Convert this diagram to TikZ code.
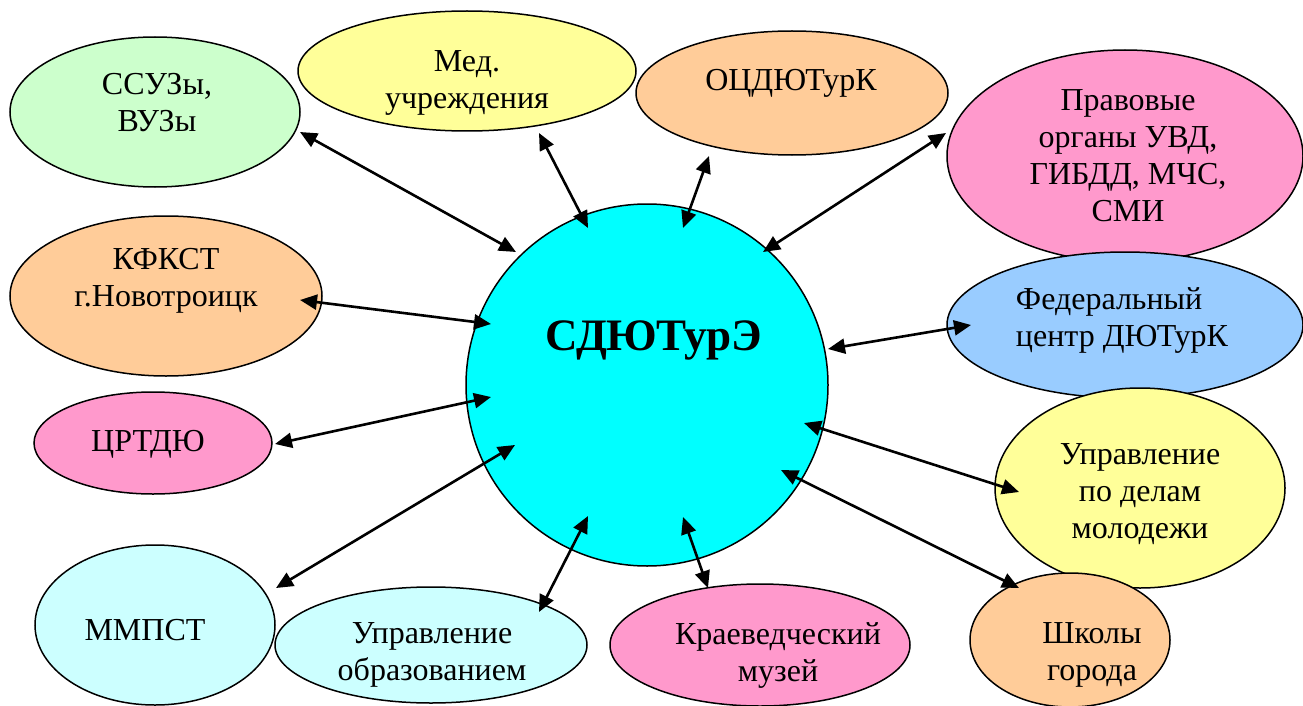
\documentclass[tikz,border=0pt]{standalone}
\usepackage{fontspec}
\setmainfont{Liberation Serif}
\newfontfamily\tms{Liberation Serif}
\usetikzlibrary{shapes.geometric,arrows.meta}
\definecolor{cgreen}{HTML}{CCFFCC}
\definecolor{cyellow}{HTML}{FFFF99}
\definecolor{cpeach}{HTML}{FFCC99}
\definecolor{cpink}{HTML}{FF99CC}
\definecolor{cblue}{HTML}{99CCFF}
\definecolor{clcyan}{HTML}{CCFFFF}
\definecolor{ccyan}{HTML}{00FFFF}
\begin{document}
\begin{tikzpicture}[x=1pt,y=-1pt,
 bub/.style={ellipse,draw=black,line width=1.5pt,inner sep=0pt},
 txt/.style={align=center,font=\tms\fontsize{32}{37}\selectfont,inner sep=0pt},
 lnk/.style={line width=2.6pt,{Triangle[length=17pt,width=15pt]}-{Triangle[length=17pt,width=15pt]}}
]
\useasboundingbox (0,0) rectangle (1303,706);
% bubbles
\node[bub,fill=cgreen,minimum width=290,minimum height=150] (e1) at (155,112) {};
\node[bub,fill=cyellow,minimum width=338,minimum height=120] (e2) at (467,71) {};
\node[bub,fill=cpeach,minimum width=312,minimum height=124] (e3) at (792,93) {};
\node[bub,fill=cpink,minimum width=356,minimum height=212] (e4) at (1125,156) {};
\node[bub,fill=cpeach,minimum width=312,minimum height=160] (e5) at (166,296) {};
\node[bub,fill=cblue,minimum width=356,minimum height=146] (e6) at (1125,325) {};
\node[bub,fill=cpink,minimum width=238,minimum height=102] (e7) at (153,443) {};
\node[bub,fill=cyellow,minimum width=290,minimum height=200] (e8) at (1140,488) {};
\node[bub,fill=clcyan,minimum width=240,minimum height=160] (e9) at (155,625) {};
\node[bub,fill=clcyan,minimum width=312,minimum height=116] (e10) at (431,645) {};
\node[bub,fill=cpink,minimum width=300,minimum height=122] (e11) at (760,645) {};
\node[bub,fill=cpeach,minimum width=200,minimum height=134] (e12) at (1070,640) {};
\node[circle,draw=black,line width=1.5pt,fill=ccyan,minimum size=362,inner sep=0pt] (c) at (647,385) {};
% texts
\node[txt] (t1) at (157,103) {ССУЗы,\\ВУЗы};
\node[txt] (t2) at (467,83) {Мед.\\учреждения};
\node[txt] (t3) at (791,83) {ОЦДЮТурК};
\node[txt] (t4) at (1128,156) {Правовые\\органы УВД,\\ГИБДД, МЧС,\\СМИ};
\node[txt] (t5) at (166,281) {КФКСТ\\г.Новотроицк};
\node[txt,align=left] (t6) at (1122,320) {Федеральный\\центр ДЮТурК};
\node[txt] (t7) at (148,444) {ЦРТДЮ};
\node[txt] (t8) at (1140,494) {Управление\\по делам\\молодежи};
\node[txt] (t9) at (145,630) {ММПСТ};
\node[txt] (t10) at (432,655) {Управление\\образованием};
\node[txt] (t11) at (778,655) {Краеведческий\\музей};
\node[txt] (t12) at (1092,655) {Школы\\города};
\node[font=\tms\bfseries\fontsize{45}{48}\selectfont,inner sep=0pt] (tc) at (654,340) {СДЮТурЭ};
% arrow endpoints
\coordinate (a1s) at (300,132);  \coordinate (a1e) at (516,252);
\coordinate (a2s) at (539,133);  \coordinate (a2e) at (588,228);
\coordinate (a3s) at (709,156);  \coordinate (a3e) at (683,228);
\coordinate (a4s) at (946,133);  \coordinate (a4e) at (763,252);
\coordinate (a5s) at (300,300);  \coordinate (a5e) at (491,324);
\coordinate (a6s) at (971,325);  \coordinate (a6e) at (828,349);
\coordinate (a7s) at (275,444);  \coordinate (a7e) at (491,397);
\coordinate (a8s) at (804,423);  \coordinate (a8e) at (1019,492);
\coordinate (a9s) at (781,470);  \coordinate (a9e) at (1019,588);
\coordinate (a10s) at (276,588); \coordinate (a10e) at (515,445);
\coordinate (a11s) at (539,612); \coordinate (a11e) at (588,516);
\coordinate (a12s) at (683,517); \coordinate (a12e) at (708,588);
\foreach \i in {1,...,12} {\draw[lnk] (a\i s) -- (a\i e);}
\end{tikzpicture}
\end{document}
